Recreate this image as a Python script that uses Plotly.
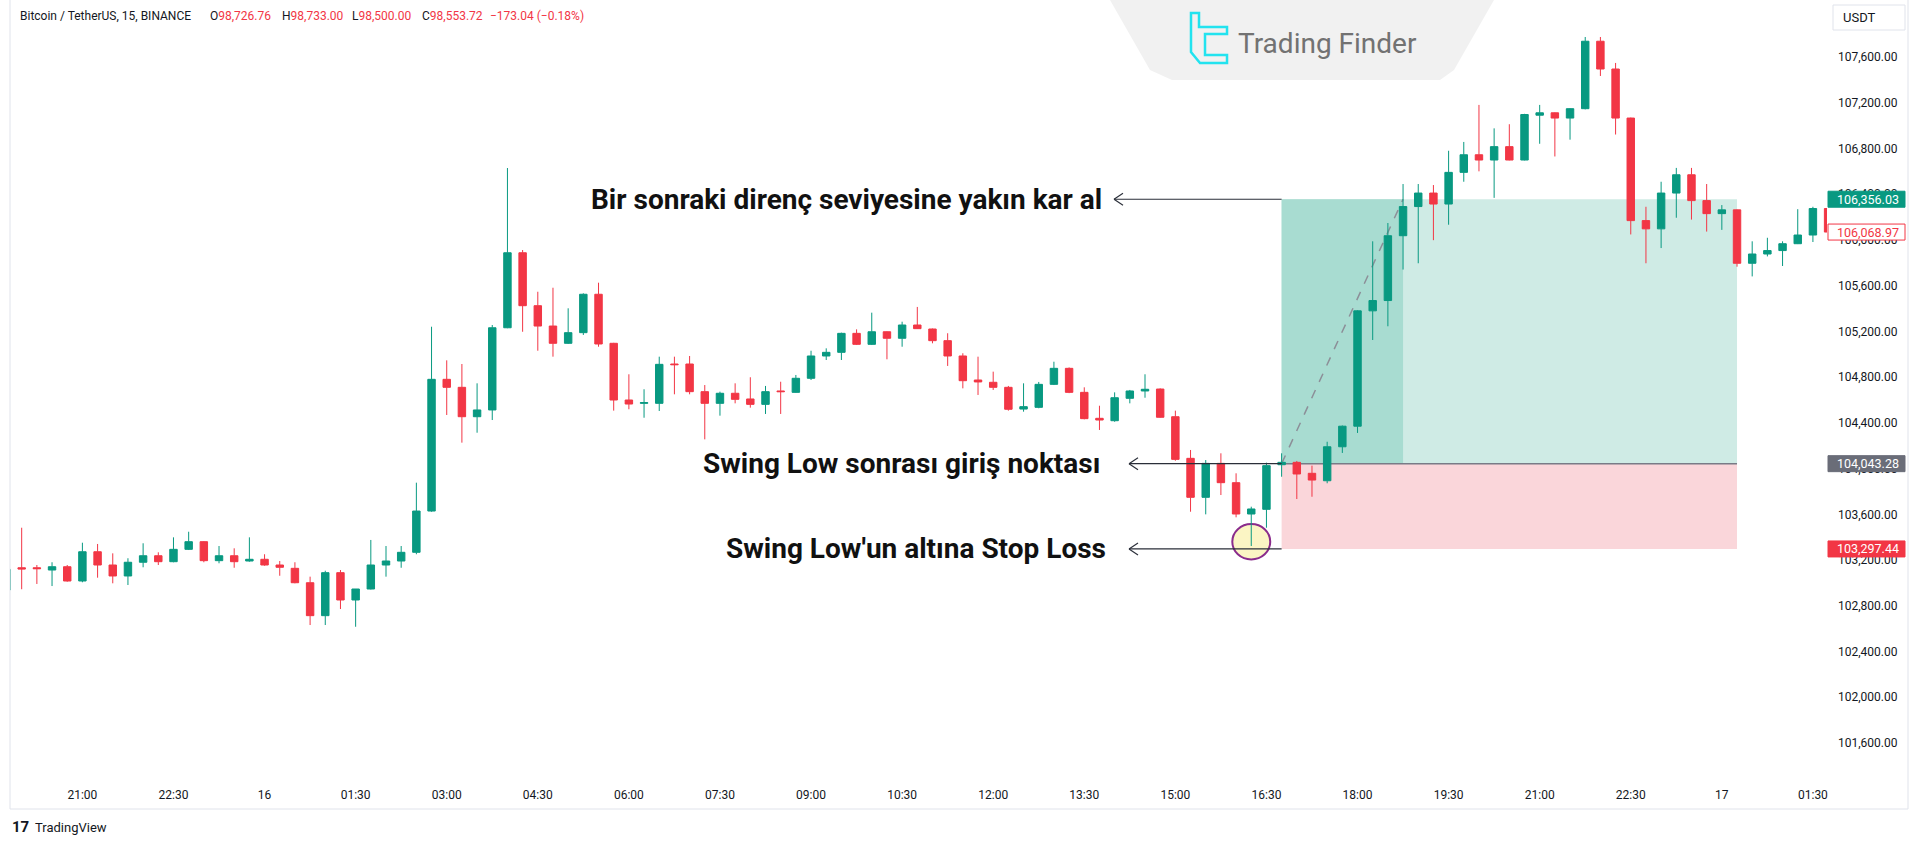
import pandas as pd
import plotly.graph_objects as go

# ---------------- data (BTC/USDT, 15m) ----------------
T0 = pd.Timestamp("2024-12-15 19:45")

opens = [102938, 103133, 103133, 103113, 103142, 103017, 103273, 103157, 103061, 103181,
         103238, 103186, 103294, 103361, 103195, 103238, 103192, 103207, 103157, 103128,
         103002, 102714, 103090, 102851, 102947, 103157, 103192, 103268, 103629, 104781,
         104711, 104454, 104513, 105232, 105888, 105425, 105247, 105096, 105189, 105525,
         105096, 104600, 104571, 104571, 104915, 104915, 104673, 104571, 104659, 104609,
         104562, 104679, 104667, 104790, 104985, 105017, 105183, 105087, 105197, 105140,
         105256, 105221, 105119, 104985, 104775, 104755, 104711, 104521, 104536, 104737,
         104877, 104667, 104440, 104419, 104615, 104679, 104696, 104454, 104090, 103749,
         104046, 103877, 103603, 103644, 104034, 104055, 103959, 103894, 104191, 104371,
         105380, 105470, 106037, 106292, 106410, 106314, 106591, 106745, 106699, 106816,
         106699, 107091, 107112, 107066, 107148, 107738, 107495, 107066, 106169, 106097,
         106410, 106570, 106344, 106230, 106263, 105796, 105877, 105907, 105967, 106043,
         106275]
highs = [103133, 103483, 103157, 103181, 103157, 103352, 103341, 103259, 103216, 103347,
         103268, 103399, 103448, 103365, 103323, 103303, 103399, 103251, 103192, 103181,
         103055, 103107, 103113, 102947, 103376, 103323, 103323, 103877, 105241, 104947,
         104915, 104746, 105256, 106629, 105912, 105547, 105582, 105402, 105533, 105626,
         105100, 104825, 104694, 104979, 104979, 104985, 104731, 104673, 104746, 104799,
         104723, 104760, 104819, 105031, 105052, 105189, 105218, 105364, 105200, 105285,
         105414, 105225, 105184, 105009, 104979, 104848, 104723, 104746, 104758, 104935,
         104885, 104711, 104550, 104667, 104688, 104825, 104702, 104507, 104163, 104075,
         104134, 103959, 103667, 104052, 104134, 104067, 104026, 104235, 104377, 105385,
         105988, 106148, 106489, 106489, 106480, 106780, 106857, 107181, 106976, 107012,
         107103, 107181, 107115, 107152, 107775, 107775, 107548, 107070, 106290, 106509,
         106630, 106630, 106489, 106305, 106266, 105988, 106019, 105988, 106269, 106290,
         106297]
lows = [102924, 102945, 102991, 102973, 103011, 103006, 103046, 102997, 102982, 103137,
        103157, 103181, 103288, 103181, 103172, 103133, 103186, 103151, 103063, 102997,
        102632, 102632, 102772, 102617, 102943, 103055, 103133, 103251, 103623, 104469,
        104227, 104314, 104425, 105228, 105197, 105031, 104979, 105090, 105169, 105066,
        104507, 104519, 104445, 104504, 104650, 104650, 104256, 104463, 104571, 104533,
        104478, 104478, 104663, 104775, 104950, 104950, 105081, 105081, 104956, 105066,
        105221, 105096, 104898, 104702, 104644, 104688, 104507, 104498, 104528, 104731,
        104660, 104431, 104338, 104410, 104571, 104620, 104445, 104069, 103623, 103600,
        103769, 103574, 103323, 103483, 103929, 103734, 103754, 103872, 104137, 104312,
        105125, 105245, 105741, 105796, 105998, 106133, 106509, 106600, 106368, 106696,
        106696, 106841, 106730, 106877, 107142, 107434, 106922, 106048, 105796, 105929,
        106194, 106178, 106073, 106088, 105766, 105681, 105856, 105772, 105964, 105982,
        106043]
closes = [103119, 103122, 103125, 103142, 103017, 103273, 103157, 103061, 103181, 103238,
          103186, 103294, 103361, 103195, 103238, 103186, 103207, 103157, 103137, 103002,
          102714, 103090, 102851, 102947, 103157, 103192, 103268, 103629, 104781, 104711,
          104454, 104513, 105232, 105888, 105425, 105247, 105096, 105189, 105525, 105090,
          104600, 104565, 104577, 104912, 104909, 104673, 104571, 104659, 104606, 104562,
          104673, 104673, 104790, 104985, 105017, 105183, 105087, 105197, 105140, 105256,
          105224, 105119, 104985, 104769, 104758, 104711, 104519, 104542, 104737, 104877,
          104667, 104437, 104425, 104620, 104679, 104694, 104449, 104081, 103749, 104046,
          103877, 103603, 103647, 104026, 104055, 103953, 103900, 104191, 104371, 105380,
          105470, 106037, 106292, 106410, 106314, 106591, 106745, 106699, 106816, 106699,
          107097, 107112, 107066, 107148, 107738, 107495, 107066, 106169, 106097, 106410,
          106570, 106344, 106230, 106263, 105796, 105877, 105907, 105967, 106043, 106275,
          106069]

times = [T0 + pd.Timedelta(minutes=15 * i) for i in range(len(opens))]

tick_times = ["2024-12-15 21:00", "2024-12-15 22:30", "2024-12-16 00:00", "2024-12-16 01:30",
              "2024-12-16 03:00", "2024-12-16 04:30", "2024-12-16 06:00", "2024-12-16 07:30",
              "2024-12-16 09:00", "2024-12-16 10:30", "2024-12-16 12:00", "2024-12-16 13:30",
              "2024-12-16 15:00", "2024-12-16 16:30", "2024-12-16 18:00", "2024-12-16 19:30",
              "2024-12-16 21:00", "2024-12-16 22:30", "2024-12-17 00:00", "2024-12-17 01:30"]
tick_labels = ["21:00", "22:30", "16", "01:30", "03:00", "04:30", "06:00", "07:30", "09:00",
               "10:30", "12:00", "13:30", "15:00", "16:30", "18:00", "19:30", "21:00", "22:30",
               "17", "01:30"]
price_ticks = list(range(101600, 107601, 400))
price_labels = [f"{v:,.2f}" for v in price_ticks]

TAKE_PROFIT = 106356.03
ENTRY = 104043.28
STOP_LOSS = 103297.44
LAST_PRICE = 106068.97
BOX_START, BOX_MID, BOX_END = 84, 92, 114
SWING_LOW_BAR = 82

header_parts = [("Bitcoin / TetherUS, 15, BINANCE", None),
                ("O", "98,726.76"), ("H", "98,733.00"), ("L", "98,500.00"),
                ("C", "98,553.72"), ("", "−173.04 (−0.18%)")]

label_tp = "Bir sonraki direnç seviyesine yakın kar al"
label_entry = "Swing Low sonrası giriş noktası"
label_sl = "Swing Low'un altına Stop Loss"

# ---------------- geometry ----------------
W, H = 1920, 842
PL, PR, PT, PB = 10, 1827, 0, 780
BAR0_PX, BAR_PX = 6.5, 15.18          # pixel of bar 0 and bar spacing
PX_PER_USD = 1 / 8.746
YMAX = 107600 + 57 / PX_PER_USD
YMIN = YMAX - (PB - PT) / PX_PER_USD

GREEN = "#089981"
RED = "#F23645"
TXT = "#131722"
FONT = "Roboto"


def tx(i):
    return T0 + pd.Timedelta(minutes=15 * i)


def bar_of_px(px):
    return (px - BAR0_PX) / BAR_PX


def pxx(px):
    return (px - PL) / (PR - PL)


def pxy(py):
    return (PB - py) / (PB - PT)


def ppy(price):
    return (price - YMIN) / (YMAX - YMIN)


def price_px(price):
    return PB - ppy(price) * (PB - PT)


fig = go.Figure()
fig.add_trace(go.Candlestick(
    x=times, open=opens, high=highs, low=lows, close=closes,
    increasing=dict(line=dict(color=GREEN, width=1), fillcolor=GREEN),
    decreasing=dict(line=dict(color=RED, width=1), fillcolor=RED),
    whiskerwidth=0, hoverinfo="skip", showlegend=False,
))

shapes = []
# position tool
shapes.append(dict(type="rect", xref="x", yref="y", x0=tx(BOX_START), x1=tx(BOX_END),
                   y0=ENTRY, y1=TAKE_PROFIT, fillcolor="#cfebe5", line_width=0, layer="below"))
shapes.append(dict(type="rect", xref="x", yref="y", x0=tx(BOX_START), x1=tx(BOX_MID),
                   y0=ENTRY, y1=TAKE_PROFIT, fillcolor="#a8dcd1", line_width=0, layer="below"))
shapes.append(dict(type="rect", xref="x", yref="y", x0=tx(BOX_START), x1=tx(BOX_END),
                   y0=STOP_LOSS, y1=ENTRY, fillcolor="#fad6da", line_width=0, layer="below"))
shapes.append(dict(type="line", xref="x", yref="y", x0=tx(BOX_START), x1=tx(BOX_END),
                   y0=ENTRY, y1=ENTRY, line=dict(color="#787b86", width=1.5), layer="below"))
shapes.append(dict(type="line", xref="x", yref="y", x0=tx(BOX_START), x1=tx(BOX_MID),
                   y0=ENTRY, y1=TAKE_PROFIT, line=dict(color="#8c8f98", width=1.5, dash="dash"),
                   layer="below"))
# swing-low circle
cy = lows[SWING_LOW_BAR] + 38
shapes.append(dict(type="circle", xref="x", yref="y",
                   x0=tx(SWING_LOW_BAR - 1.25), x1=tx(SWING_LOW_BAR + 1.25),
                   y0=cy - 17.7 / PX_PER_USD, y1=cy + 17.7 / PX_PER_USD,
                   fillcolor="#fbf5c4", line=dict(color="#8a2c8c", width=2), layer="below"))

# arrows from labels to the tool
box_left_px = BAR0_PX + BAR_PX * BOX_START
for level, tip_px in [(TAKE_PROFIT, 1114), (ENTRY, 1129), (STOP_LOSS, 1129)]:
    yy = ppy(level)
    shapes.append(dict(type="line", xref="paper", yref="paper", x0=pxx(tip_px), x1=pxx(box_left_px),
                       y0=yy, y1=yy, line=dict(color="#2a2e39", width=1.2)))
    py = price_px(level)
    for d in (-6, 6):
        shapes.append(dict(type="line", xref="paper", yref="paper", x0=pxx(tip_px), x1=pxx(tip_px + 9),
                           y0=yy, y1=pxy(py + d), line=dict(color="#2a2e39", width=1.2)))

# chart frame
shapes.append(dict(type="rect", xref="paper", yref="paper", x0=pxx(10), x1=pxx(1908),
                   y0=pxy(809), y1=pxy(-3), line=dict(color="#e0e3eb", width=1)))

# logo tab
tab = [(1110, 0), (1150, 70), (1172, 80), (1440, 80), (1454, 70), (1494, 0)]
path = "M " + " L ".join(f"{pxx(a):.5f},{pxy(b):.5f}" for a, b in tab) + " Z"
shapes.append(dict(type="path", xref="paper", yref="paper", path=path,
                   fillcolor="#f1f1f1", line_width=0))
icon = [(1191, 13), (1199, 13), (1199, 27), (1227, 27), (1227, 34), (1205, 34), (1205, 55),
        (1227, 55), (1227, 63), (1200, 63), (1191, 52)]
path = "M " + " L ".join(f"{pxx(a):.5f},{pxy(b):.5f}" for a, b in icon) + " Z"
shapes.append(dict(type="path", xref="paper", yref="paper", path=path,
                   fillcolor="rgba(0,0,0,0)", line=dict(color="#22e3ef", width=2.5)))

# USDT button
shapes.append(dict(type="rect", xref="paper", yref="paper", x0=pxx(1833), x1=pxx(1905),
                   y0=pxy(30), y1=pxy(5), line=dict(color="#e0e3eb", width=1), fillcolor="white"))

# price tags
tags = [(TAKE_PROFIT, GREEN, GREEN, "white"),
        (LAST_PRICE, "white", RED, RED),
        (ENTRY, "#6a6d78", "#6a6d78", "white"),
        (STOP_LOSS, RED, RED, "white")]
annotations = []
for level, fill, border, tcol in tags:
    py = price_px(level)
    shapes.append(dict(type="rect", xref="paper", yref="paper", x0=pxx(1828), x1=pxx(1905),
                       y0=pxy(py + 8), y1=pxy(py - 8), fillcolor=fill,
                       line=dict(color=border, width=1), layer="above"))
    annotations.append(dict(xref="paper", yref="paper", x=pxx(1868), y=pxy(py),
                            text=f"{level:,.2f}", showarrow=False, xanchor="center", yanchor="middle",
                            font=dict(family=FONT, size=12.5, color=tcol)))

annotations.append(dict(xref="paper", yref="paper", x=pxx(1859), y=pxy(17.5), text="USDT",
                        showarrow=False, xanchor="center", yanchor="middle",
                        font=dict(family=FONT, size=13, color=TXT)))

# header
hx = [18, 208, 280, 350, 420, 488]
for (lab, val), x in zip(header_parts, hx):
    if val is None:
        txt = f'<span style="color:{TXT}">{lab}</span>'
    else:
        txt = f'<span style="color:{TXT}">{lab}</span><span style="color:{RED}">{val}</span>'
    annotations.append(dict(xref="paper", yref="paper", x=pxx(x), y=pxy(16), text=txt,
                            showarrow=False, xanchor="left", yanchor="middle",
                            font=dict(family=FONT, size=12, color=TXT)))

# big labels
for txt, level, right_px in [(label_tp, TAKE_PROFIT, 1104), (label_entry, ENTRY, 1102),
                             (label_sl, STOP_LOSS, 1108)]:
    annotations.append(dict(xref="paper", yref="paper", x=pxx(right_px), y=ppy(level),
                            text=f"<b>{txt}</b>", showarrow=False, xanchor="right", yanchor="middle",
                            font=dict(family=FONT, size=28, color="#111111")))

# logo text
annotations.append(dict(xref="paper", yref="paper", x=pxx(1236), y=pxy(43), text="Trading Finder",
                        showarrow=False, xanchor="left", yanchor="middle",
                        font=dict(family=FONT, size=28, color="#727272")))

# footer
annotations.append(dict(xref="paper", yref="paper", x=pxx(10), y=pxy(827), text="<b>17</b>",
                        showarrow=False, xanchor="left", yanchor="middle",
                        font=dict(family=FONT, size=15, color=TXT)))
annotations.append(dict(xref="paper", yref="paper", x=pxx(33), y=pxy(827), text="TradingView",
                        showarrow=False, xanchor="left", yanchor="middle",
                        font=dict(family=FONT, size=13, color=TXT)))

fig.update_layout(
    width=W, height=H,
    margin=dict(l=PL, r=W - PR, t=PT, b=H - PB),
    paper_bgcolor="white", plot_bgcolor="white",
    showlegend=False,
    shapes=shapes, annotations=annotations,
    xaxis=dict(type="date", range=[tx(bar_of_px(PL)), tx(bar_of_px(PR))],
               showgrid=False, zeroline=False, showline=False, ticks="",
               tickvals=tick_times, ticktext=tick_labels,
               tickfont=dict(family=FONT, size=12, color=TXT),
               ticklabelstandoff=6, rangeslider=dict(visible=False), fixedrange=True),
    yaxis=dict(side="right", range=[YMIN, YMAX], showgrid=False, zeroline=False, showline=False,
               ticks="", tickvals=price_ticks, ticktext=price_labels,
               tickfont=dict(family=FONT, size=12, color=TXT),
               ticklabelstandoff=10, fixedrange=True),
)

fig.write_html("out.html", config={"displayModeBar": False},
               post_script="document.body.style.margin='0';document.body.style.overflow='hidden';")
